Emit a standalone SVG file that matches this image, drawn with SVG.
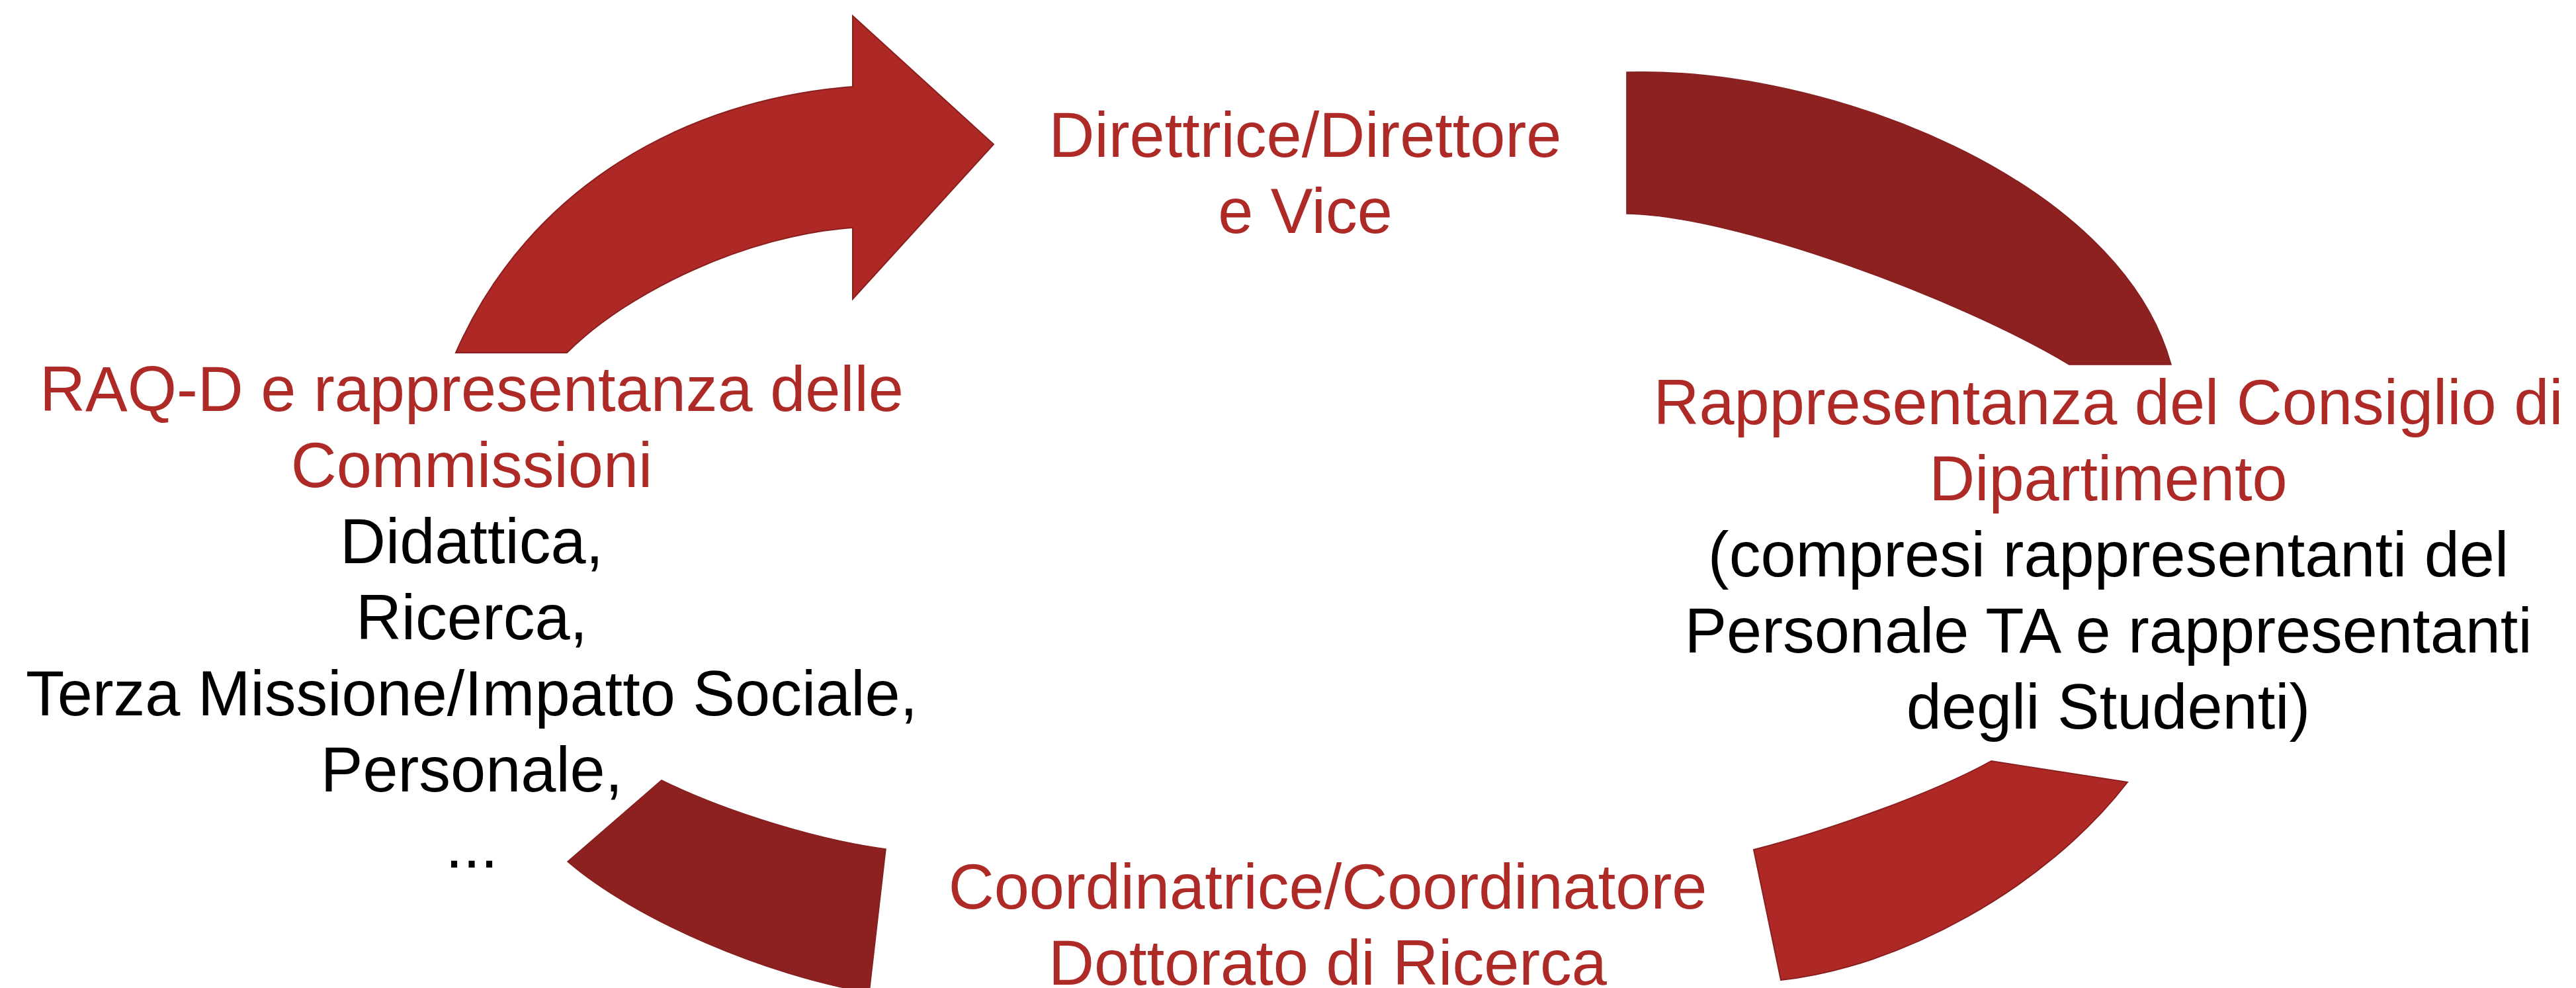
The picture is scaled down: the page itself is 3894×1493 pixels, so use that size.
<svg xmlns="http://www.w3.org/2000/svg" width="3894" height="1493" viewBox="0 0 3894 1493">
<style>
.t{font-family:"Liberation Sans",Arial,sans-serif;font-size:95.5px;text-anchor:middle}
.r{fill:#AE2A27}
.k{fill:#000000}
.light{fill:#AE2926;stroke:#8A1F1F;stroke-width:2;stroke-linejoin:miter}
.dark{fill:#8C2120;stroke:#842020;stroke-width:1.5}
</style>
<rect width="3894" height="1493" fill="#FFFFFF"/>
<g id="connectors">
<path id="arrow-top-left" class="light" d="M689,533 C800,280 1040,150 1289,131 L1289,24 L1502,218 L1289,452 L1289,344 C1130,355 950,440 857,533 Z"/>
<path id="arc-top-right" class="dark" d="M2459,109 C2760,100 3205,270 3282,551 L3128,551 C2960,450 2620,325 2459,323 Z"/>
<path id="arc-bottom-right" class="light" d="M2651,1284 C2760,1256 2920,1200 3010,1150 L3216,1182 C3090,1345 2870,1462 2692,1481 Z"/>
<path id="arc-bottom-left" class="dark" d="M1000,1179 C1100,1228 1240,1270 1339,1283 L1314,1500 C1160,1475 960,1390 858,1302 Z"/>
</g>
<g id="node-direttore">
<text class="t r" x="1973" y="237">Direttrice/Direttore</text>
<text class="t r" x="1973" y="352">e Vice</text>
</g>
<g id="node-consiglio">
<text class="t r" x="3187" y="641">Rappresentanza del Consiglio di</text>
<text class="t r" x="3187" y="756">Dipartimento</text>
<text class="t k" x="3187" y="871">(compresi rappresentanti del</text>
<text class="t k" x="3187" y="986">Personale TA e rappresentanti</text>
<text class="t k" x="3187" y="1101">degli Studenti)</text>
</g>
<g id="node-coordinatore">
<text class="t r" x="2007" y="1373">Coordinatrice/Coordinatore</text>
<text class="t r" x="2007" y="1488">Dottorato di Ricerca</text>
</g>
<g id="node-raq">
<text class="t r" x="713" y="621">RAQ-D e rappresentanza delle</text>
<text class="t r" x="713" y="736">Commissioni</text>
<text class="t k" x="713" y="851">Didattica,</text>
<text class="t k" x="713" y="966">Ricerca,</text>
<text class="t k" x="713" y="1081">Terza Missione/Impatto Sociale,</text>
<text class="t k" x="713" y="1196">Personale,</text>
<text class="t k" x="713" y="1311">...</text>
</g>
</svg>
